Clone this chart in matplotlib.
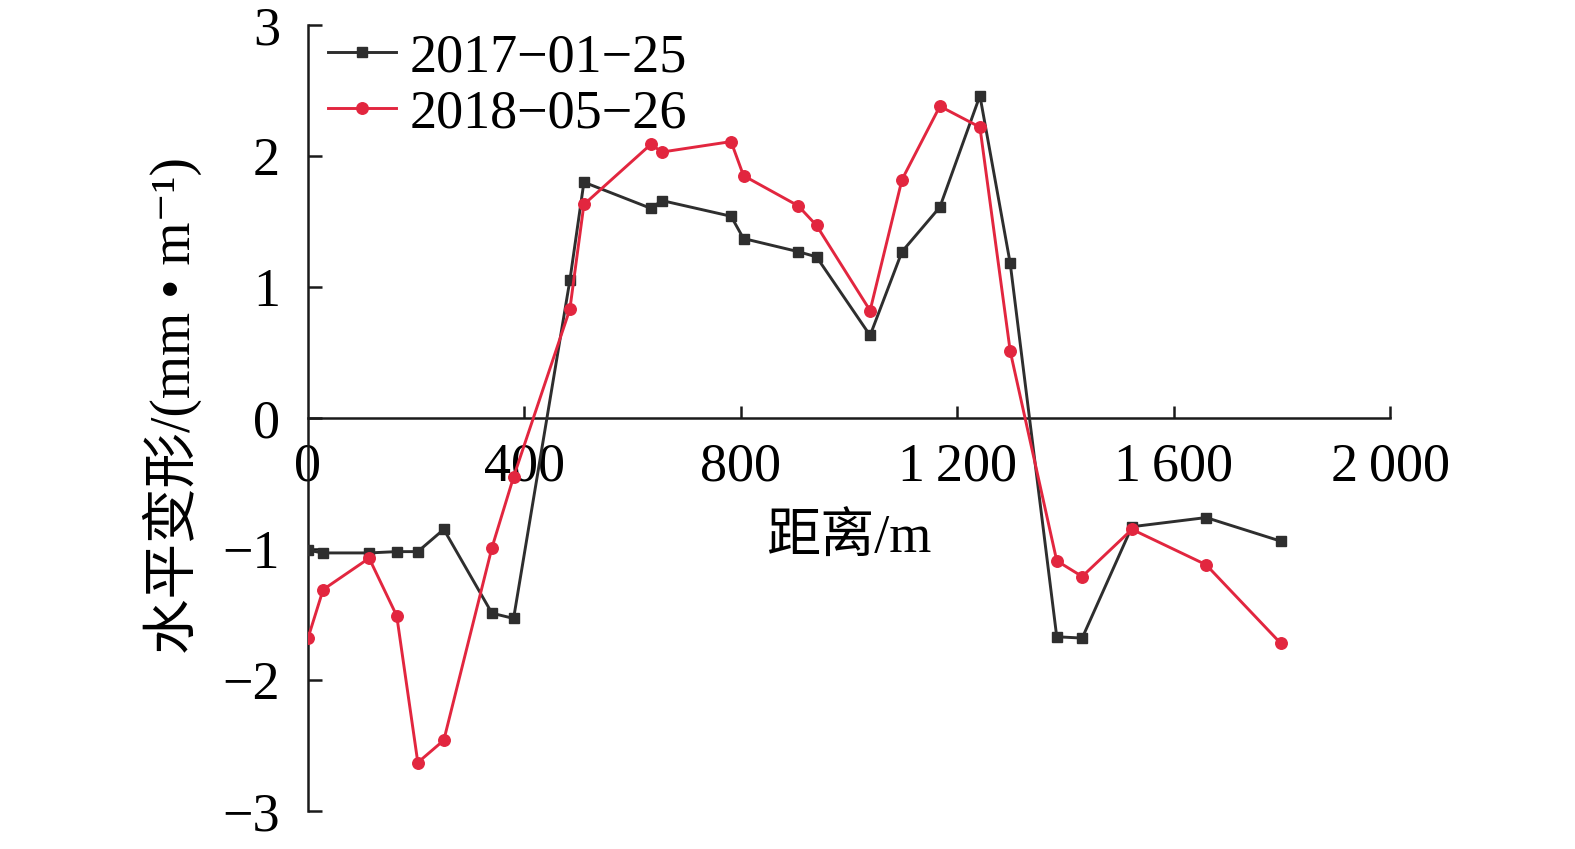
import matplotlib
matplotlib.use("Agg")
import matplotlib.pyplot as plt

# ---- data ----
dist = [0, 28, 113, 164, 203, 251, 340, 380, 484, 510, 634, 654, 782, 805,
        906, 940, 1039, 1098, 1168, 1242, 1298, 1384, 1431, 1523, 1660, 1798]
s2017 = [-1.01, -1.03, -1.03, -1.02, -1.02, -0.85, -1.49, -1.53, 1.05, 1.80,
         1.60, 1.66, 1.54, 1.37, 1.27, 1.23, 0.63, 1.27, 1.61, 2.46, 1.18,
         -1.67, -1.68, -0.83, -0.76, -0.94]
s2018 = [-1.68, -1.31, -1.07, -1.51, -2.63, -2.46, -0.99, -0.45, 0.83, 1.63,
         2.09, 2.03, 2.11, 1.85, 1.62, 1.47, 0.82, 1.82, 2.38, 2.22, 0.51,
         -1.09, -1.21, -0.85, -1.12, -1.72]
labels = ["2017\u221201\u221225", "2018\u221205\u221226"]
xticks = [0, 400, 800, 1200, 1600, 2000]
xticklabels = ["0", "400", "800", "1\u2009200", "1\u2009600", "2\u2009000"]
yticks = [-3, -2, -1, 0, 1, 2, 3]
yticklabels = ["\u22123", "\u22122", "\u22121", "0", "1", "2", "3"]

serif = ["Liberation Serif", "Noto Sans CJK SC", "DejaVu Sans"]
plt.rcParams["font.family"] = serif

W, H = 1575, 849
fig = plt.figure(figsize=(W / 100, H / 100), dpi=100)
ax = fig.add_axes([308 / W, 1 - 811 / H, (1390 - 308) / W, (811 - 25) / H])

ax.plot(dist, s2017, color="#2e2e2e", lw=2.1, marker="s", ms=7.3,
        label=labels[0], zorder=3)
ax.plot(dist, s2018, color="#e2263f", lw=2.1, marker="o", ms=8.3,
        label=labels[1], zorder=4)

ax.set_xlim(0, 2000)
ax.set_ylim(-3, 3)
ax.spines["left"].set_position(("data", 0))
ax.spines["bottom"].set_position(("data", 0))
ax.spines["top"].set_visible(False)
ax.spines["right"].set_visible(False)
for sp in ("left", "bottom"):
    ax.spines[sp].set_linewidth(1.8)
    ax.spines[sp].set_color("#1a1a1a")

ax.set_xticks(xticks)
ax.set_xticklabels(xticklabels)
ax.set_yticks(yticks)
ax.set_yticklabels(yticklabels)
ax.tick_params(axis="x", direction="in", length=9, width=1.8, pad=17,
               labelsize=39, color="#1a1a1a")
ax.tick_params(axis="y", direction="in", length=10, width=1.8, pad=20,
               labelsize=39, color="#1a1a1a")
# hide the x tick at 0 (overlaps the y spine)
ax.xaxis.get_major_ticks()[0].tick1line.set_visible(False)

ax.text(1000, -0.93, "距离/m", fontsize=39, ha="center", va="center",
        family=serif)
fig.text(172 / W, 1 - 405 / H, "水平变形/(mm \u2022 m\u207b\u00b9)",
         fontsize=40, rotation=90, ha="center", va="center", family=serif)

leg = ax.legend(loc="upper left", bbox_to_anchor=(0.0185, 0.99),
                frameon=False, fontsize=39, handlelength=1.25,
                handletextpad=0.25, labelspacing=0.1, borderaxespad=0,
                borderpad=0)

fig.savefig("out.png", dpi=100)
